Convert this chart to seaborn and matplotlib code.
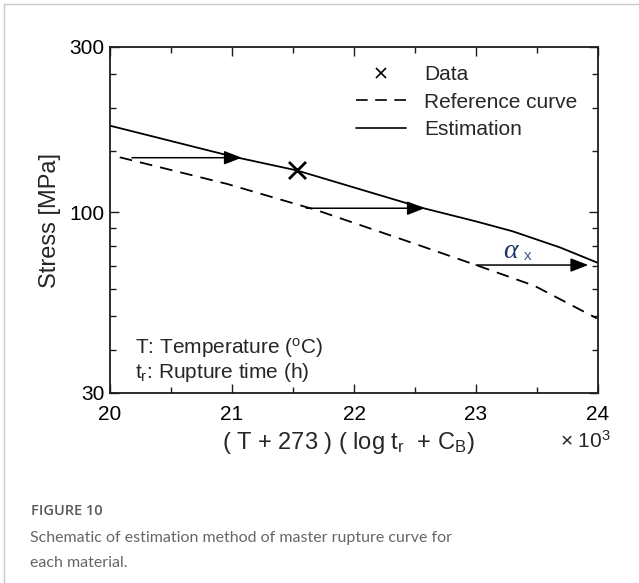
import numpy as np
import pandas as pd
import matplotlib
matplotlib.use("Agg")
import matplotlib.pyplot as plt
from matplotlib.lines import Line2D
from matplotlib.ticker import FixedLocator, NullFormatter
import seaborn as sns

# Larson-Miller type parameter (x 10^3) and stress [MPa]
est_lmp = [20.0, 21.01, 21.53, 22.57, 23.0, 23.3, 23.69, 24.0]
est_stress = [177.7, 144.6, 132.0, 102.6, 94.0, 88.0, 79.0, 71.3]

ref_lmp = [20.08, 20.96, 21.69, 22.48, 23.0, 23.48, 23.99]
ref_stress = [144.0, 120.6, 101.4, 81.4, 70.3, 61.2, 49.3]

data_lmp = [21.53]
data_stress = [132.0]

# horizontal shifts from reference curve to estimation (start, end, stress)
shift_start = [20.18, 21.61, 23.0]
shift_end = [21.08, 22.58, 23.92]
shift_stress = [143.6, 102.6, 70.3]

x_ticks = [20, 21, 22, 23, 24]
y_ticks = [30, 100, 300]
y_minor = [40, 50, 60, 70, 80, 90, 150, 200, 250]

sns.set_style("ticks")
plt.rcParams["font.family"] = ["Liberation Sans", "DejaVu Sans"]
plt.rcParams["mathtext.fontset"] = "custom"
plt.rcParams["mathtext.rm"] = "Liberation Sans"
plt.rcParams["mathtext.it"] = "Liberation Sans:italic"

INK = "#1c1c1c"
FS = 15
LFS = 17
DASH = (0, (7.0, 4.5))

fig = plt.figure(figsize=(6.39, 5.83), dpi=100)
ax = fig.add_axes([110 / 639, 1 - 393 / 583, 488 / 639, 346 / 583])

est_df = pd.DataFrame({"lmp": est_lmp, "stress": est_stress})
ref_df = pd.DataFrame({"lmp": ref_lmp, "stress": ref_stress})
pts_df = pd.DataFrame({"lmp": data_lmp, "stress": data_stress})

sns.lineplot(data=est_df, x="lmp", y="stress", ax=ax, color="black",
             lw=1.3, sort=False, estimator=None)
sns.lineplot(data=ref_df, x="lmp", y="stress", ax=ax, color="black",
             lw=1.3, sort=False, estimator=None, linestyle=DASH)
sns.scatterplot(data=pts_df, x="lmp", y="stress", ax=ax, marker="x",
                s=150, color="black", linewidth=2.0, zorder=5)

for xs, xe, s in zip(shift_start, shift_end, shift_stress):
    ax.annotate("", xy=(xe, s), xytext=(xs, s),
                arrowprops=dict(arrowstyle="-|>,head_length=0.9,head_width=0.35",
                                mutation_scale=12, color="black", lw=1.1,
                                shrinkA=0, shrinkB=0))

ax.text(23.28, 76.8, "α", fontsize=20, color="#1f3563",
        ha="center", va="center", family="Liberation Serif", style="italic")
ax.text(23.39, 74.8, "x", fontsize=11, color="#3a5a8a", ha="left", va="center")

ax.set_yscale("log")
ax.set_xlim(20, 24)
ax.set_ylim(30, 300)
ax.set_xticks(x_ticks)
ax.set_xticklabels([str(v) for v in x_ticks])
ax.xaxis.set_minor_locator(FixedLocator([20.5, 21.5, 22.5, 23.5]))
ax.yaxis.set_major_locator(FixedLocator(y_ticks))
ax.set_yticklabels([str(v) for v in y_ticks])
ax.yaxis.set_minor_locator(FixedLocator(y_minor))
ax.yaxis.set_minor_formatter(NullFormatter())

ax.tick_params(which="both", direction="in", top=True, right=True,
               color=INK, width=1.0, labelsize=FS, labelcolor="black")
ax.tick_params(which="major", length=6.5)
ax.tick_params(which="minor", length=4.5)
ax.tick_params(axis="x", pad=9)
ax.tick_params(axis="y", pad=4)
for sp in ax.spines.values():
    sp.set_visible(True)
    sp.set_color(INK)
    sp.set_linewidth(1.3)

ax.set_xlabel("")
ax.set_ylabel("Stress [MPa]", fontsize=LFS, labelpad=6)

ax.text(0.488, -0.145,
        r"( T + 273 ) ( log t$_\mathregular{r}$  + C$_\mathregular{B}$)",
        transform=ax.transAxes, ha="center", va="center", fontsize=LFS)
ax.text(0.975, -0.138, r"× 10$^\mathregular{3}$", transform=ax.transAxes,
        ha="center", va="center", fontsize=FS)

ax.text(0.052, 0.13, r"T: Temperature ($^\mathregular{o}$C)",
        transform=ax.transAxes, ha="left", va="center", fontsize=FS)
ax.text(0.052, 0.06, r"t$_\mathregular{r}$: Rupture time (h)",
        transform=ax.transAxes, ha="left", va="center", fontsize=FS)

handles = [
    Line2D([], [], ls="none", marker="x", color="black", markersize=7, mew=1.2),
    Line2D([], [], ls=DASH, color="black", lw=1.2),
    Line2D([], [], ls="-", color="black", lw=1.2),
]
ax.legend(handles, ["Data", "Reference curve", "Estimation"],
          loc="upper left", bbox_to_anchor=(0.505, 0.948), frameon=False,
          fontsize=FS, handlelength=2.4, handletextpad=0.85,
          labelspacing=0.42, borderpad=0, borderaxespad=0)

# caption
fig.text(31 / 639, 1 - 511 / 583, "FIGURE 10", fontsize=10.5, color="#5a5a5a",
         family="Open Sans", weight="semibold", va="center", ha="left")
fig.text(30 / 639, 1 - 538 / 583,
         "Schematic of estimation method of master rupture curve for",
         fontsize=11.5, color="#666666", family="Lato", va="center", ha="left")
fig.text(30 / 639, 1 - 563 / 583, "each material.",
         fontsize=11.5, color="#666666", family="Lato", va="center", ha="left")

# card border
fig.add_artist(Line2D([4 / 639, 4 / 639], [0, 1 - 4 / 583],
                      transform=fig.transFigure, color="#c8c8c8", lw=1.0))
fig.add_artist(Line2D([4 / 639, 1], [1 - 4 / 583, 1 - 4 / 583],
                      transform=fig.transFigure, color="#c8c8c8", lw=1.0))

fig.savefig("out.png", dpi=100)
